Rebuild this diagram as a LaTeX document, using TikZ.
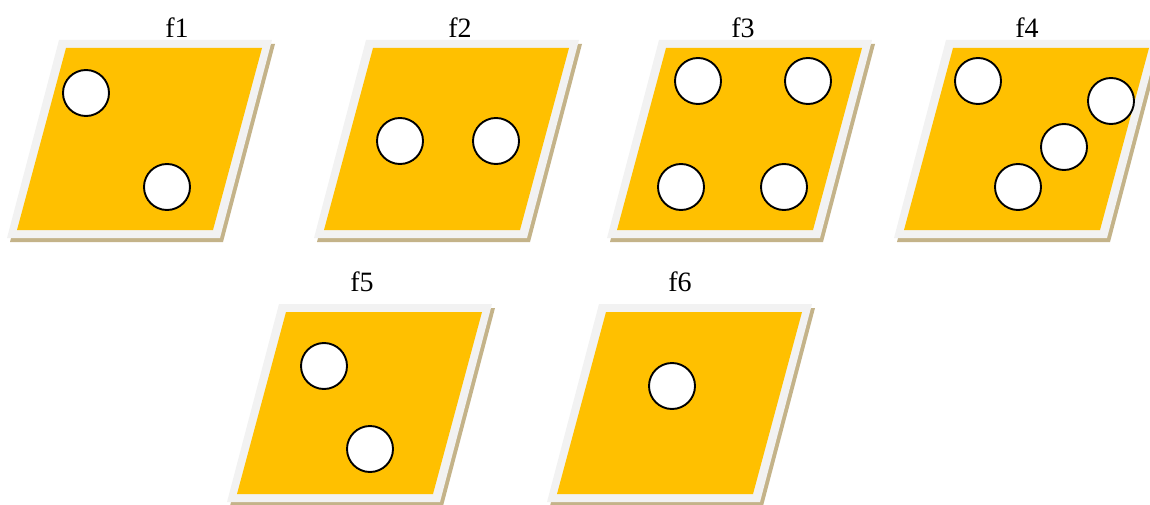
\documentclass[tikz,border=0pt]{standalone}
\usepackage{fontspec}
\setmainfont{Liberation Serif}
\definecolor{tilefill}{HTML}{FFC000}
\definecolor{tileedge}{HTML}{F2F2F2}
\definecolor{tileshadow}{HTML}{C4B389}
\begin{document}
\begin{tikzpicture}[x=1pt,y=-1pt,
  pip/.style={draw=black,fill=white,line width=1.9pt},
  lbl/.style={anchor=base,inner sep=0pt,font=\fontsize{28}{32}\selectfont},
  tile/.pic={
    \fill[tileshadow] (3,4) -- (216,4) -- (164,202) -- (-49,202) -- cycle;
    \fill[tileedge] (0,0) -- (213,0) -- (161,198) -- (-52,198) -- cycle;
    \fill[tilefill] (7,8) -- (203,8) -- (154,190) -- (-42,190) -- cycle;
  }]
\useasboundingbox (0,0) rectangle (1150,505);
\begin{scope}
\clip (0,0) rectangle (1150,505);
\pic at (59,40) {tile};
\pic at (366,40) {tile};
\pic at (659,40) {tile};
\pic at (946,40) {tile};
\pic at (279,304) {tile};
\pic at (599,304) {tile};
\end{scope}
% labels
\node[lbl] (l1) at (177,38) {f1};
\node[lbl] (l2) at (460,38) {f2};
\node[lbl] (l3) at (743,38) {f3};
\node[lbl] (l4) at (1027,38) {f4};
\node[lbl] (l5) at (362,291) {f5};
\node[lbl] (l6) at (680,291) {f6};
% pips
\draw[pip] (86,93) circle (23);
\draw[pip] (167,187) circle (23);
\draw[pip] (400,141) circle (23);
\draw[pip] (496,141) circle (23);
\draw[pip] (698,81) circle (23);
\draw[pip] (808,81) circle (23);
\draw[pip] (681,187) circle (23);
\draw[pip] (784,187) circle (23);
\draw[pip] (978,81) circle (23);
\draw[pip] (1111,101) circle (23);
\draw[pip] (1064,147) circle (23);
\draw[pip] (1018,187) circle (23);
\draw[pip] (324,366) circle (23);
\draw[pip] (370,449) circle (23);
\draw[pip] (672,386) circle (23);
\end{tikzpicture}
\end{document}
